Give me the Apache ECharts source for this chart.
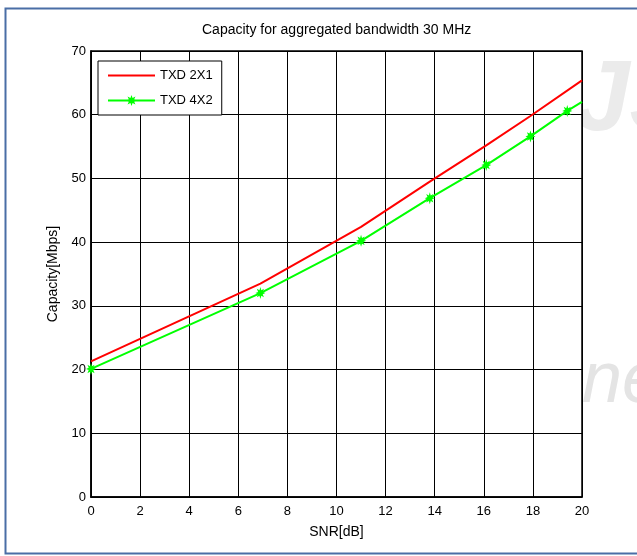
<!DOCTYPE html>
<html>
<head>
<meta charset="utf-8">
<script src="https://cdn.jsdelivr.net/npm/echarts@6/dist/echarts.min.js"></script>
<style>
html,body{margin:0;padding:0;background:#fff;}
#chart{width:637px;height:556px;}
</style>
</head>
<body>
<div id="chart"></div>
<script>
const titleText = 'Capacity for aggregated bandwidth 30 MHz';
const xTicks = [0, 2, 4, 6, 8, 10, 12, 14, 16, 18, 20];
const yTicks = [0, 10, 20, 30, 40, 50, 60, 70];
const seriesNames = ['TXD 2X1', 'TXD 4X2'];
const redSnr = [0, 6.9, 11, 13.8, 16.1, 17.9, 20];
const redCap = [21.3, 33.5, 42.4, 49.5, 55.2, 59.8, 65.4];
const greenSnr = [0, 6.9, 11, 13.8, 16.1, 17.9, 19.4, 20];
const greenCap = [20.1, 32.0, 40.2, 46.9, 52.1, 56.6, 60.6, 62.0];

const FONT = '"Liberation Sans", Arial, sans-serif';
const asterisk = 'path://M5,0 L2.3,0.95 L3.54,3.54 L0.95,2.3 L0,5 L-0.95,2.3 L-3.54,3.54 L-2.3,0.95 L-5,0 L-2.3,-0.95 L-3.54,-3.54 L-0.95,-2.3 L0,-5 L0.95,-2.3 L3.54,-3.54 L2.3,-0.95 Z';
const lineIcon = 'path://M0,0 L47,0 L47,2 L0,2 Z';

const redData = redSnr.map((x, i) => [x, redCap[i]]);
const greenData = greenSnr.map((x, i) => {
  const item = { value: [x, greenCap[i]] };
  if (i === greenSnr.length - 1) item.symbol = 'none';
  return item;
});

const chart = echarts.init(document.getElementById('chart'), null, { renderer: 'canvas' });
chart.setOption({
  animation: false,
  backgroundColor: '#fff',
  graphic: [
    { type: 'text', z: -10, left: 582, top: 346, style: { text: 'ne', fontSize: 72, fontStyle: 'italic', fontFamily: FONT, fill: '#e4e4e4' } },
    { type: 'text', z: -10, left: 574, top: 52, style: { text: 'JS', fontSize: 100, fontStyle: 'italic', fontWeight: 'bold', fontFamily: FONT, fill: '#ebebeb' } },
    { type: 'rect', z: 50, shape: { x: 5.5, y: 8.5, width: 700, height: 545 }, style: { fill: 'none', stroke: '#4a6ea6', lineWidth: 2 } }
  ],
  title: {
    text: titleText,
    left: 202,
    top: 23,
    padding: 0,
    textStyle: { fontSize: 14, fontWeight: 'normal', color: '#000', fontFamily: FONT }
  },
  legend: {
    orient: 'vertical',
    left: 98,
    top: 61,
    padding: [8, 9, 8, 9],
    itemWidth: 47,
    itemHeight: 14,
    itemGap: 12,
    borderColor: '#000',
    borderWidth: 1,
    backgroundColor: '#fff',
    textStyle: { fontSize: 13, color: '#000', fontFamily: FONT },
    data: [
      { name: seriesNames[0], icon: lineIcon },
      { name: seriesNames[1] }
    ]
  },
  grid: {
    left: 91, right: 55, top: 51, bottom: 59,
    show: true, backgroundColor: '#fff', borderColor: '#000', borderWidth: 1.5
  },
  xAxis: {
    type: 'value', min: xTicks[0], max: xTicks[xTicks.length - 1], interval: 2,
    name: 'SNR[dB]', nameLocation: 'middle', nameGap: 28,
    nameTextStyle: { fontSize: 14, color: '#000', fontFamily: FONT },
    axisLine: { show: true, lineStyle: { color: '#000', width: 1.5 } },
    axisTick: { show: false },
    axisLabel: { fontSize: 13, color: '#000', margin: 8, fontFamily: FONT },
    splitLine: { show: true, lineStyle: { color: '#000', width: 1 } }
  },
  yAxis: {
    type: 'value', min: yTicks[0], max: yTicks[yTicks.length - 1], interval: 10,
    name: 'Capacity[Mbps]', nameLocation: 'middle', nameGap: 29,
    nameTextStyle: { fontSize: 14, color: '#000', fontFamily: FONT },
    axisLine: { show: true, lineStyle: { color: '#000', width: 1.5 } },
    axisTick: { show: false },
    axisLabel: { fontSize: 13, color: '#000', margin: 5, fontFamily: FONT },
    splitLine: { show: true, lineStyle: { color: '#000', width: 1 } }
  },
  series: [
    {
      name: seriesNames[0], type: 'line', data: redData,
      symbol: 'none', color: '#ff0000',
      lineStyle: { color: '#ff0000', width: 2 }
    },
    {
      name: seriesNames[1], type: 'line', data: greenData,
      symbol: asterisk, symbolSize: [10, 12], showSymbol: true, color: '#00ff00',
      itemStyle: { color: '#00ff00' },
      lineStyle: { color: '#00ff00', width: 2 }
    }
  ]
});
</script>
</body>
</html>
